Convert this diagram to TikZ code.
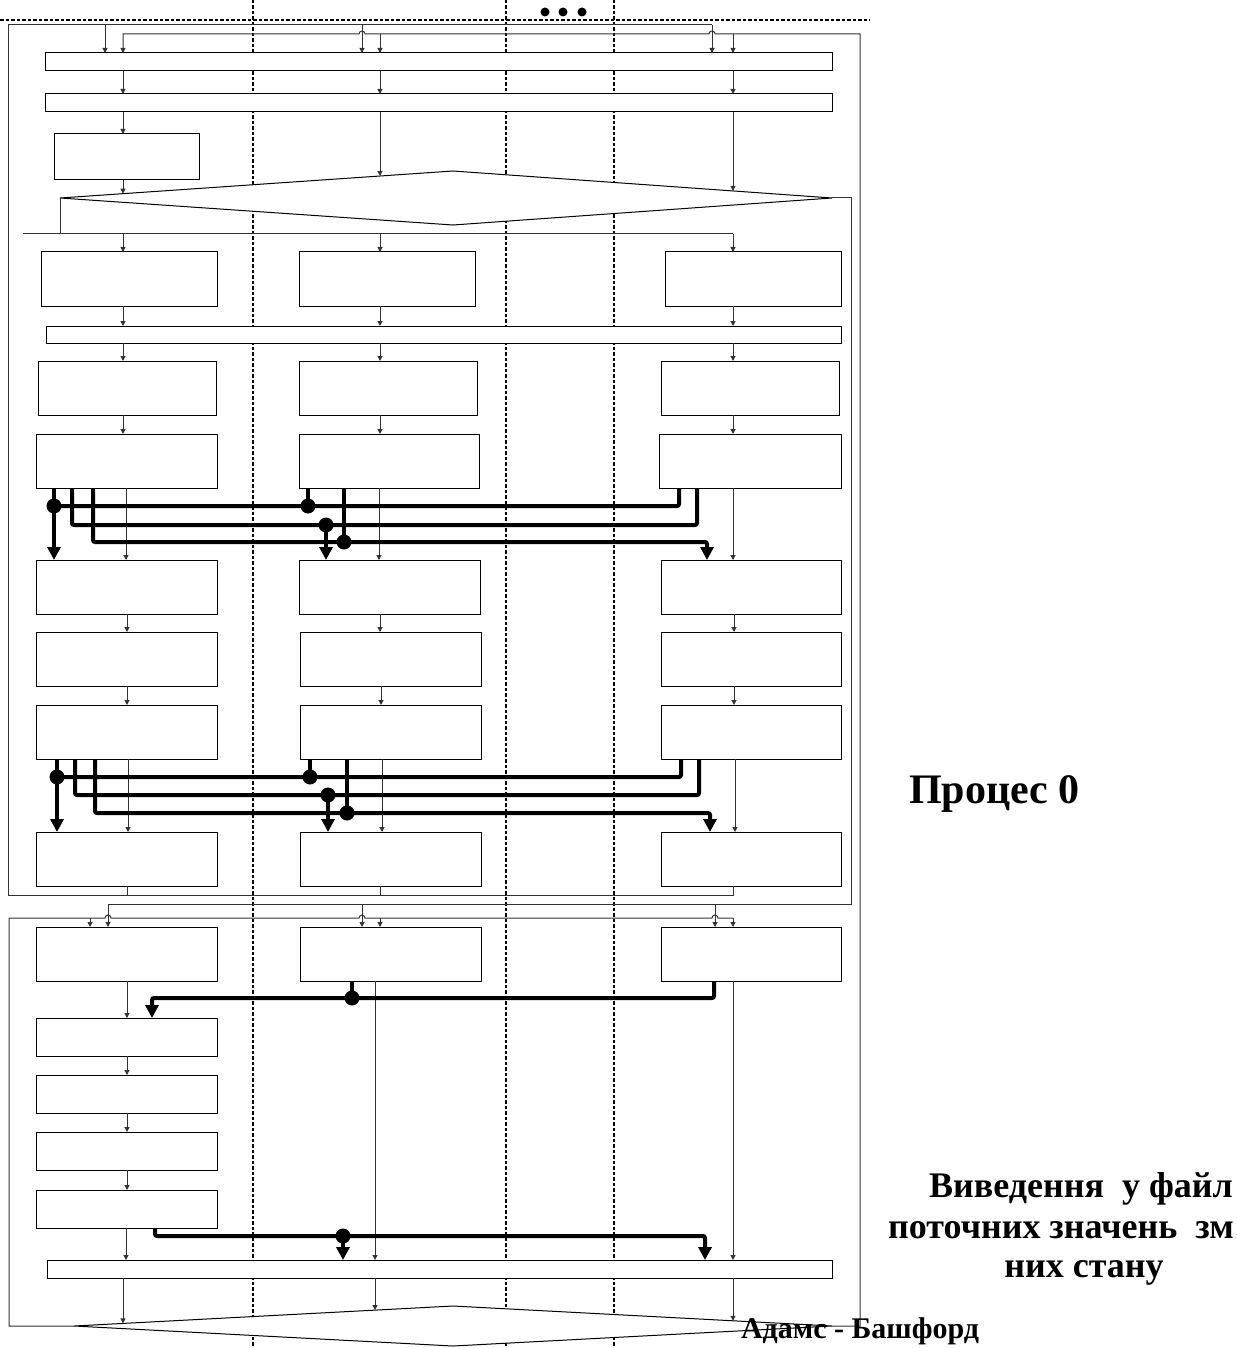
\documentclass[tikz,border=0pt]{standalone}
\usepackage{fontspec}
\setmainfont{Liberation Serif}
\usetikzlibrary{arrows.meta}
\tikzset{
  bxs/.style={draw=black, line width=1pt, fill=white},
  bx/.style={bxs, rectangle, inner sep=0pt, outer sep=0pt},
  tl/.style={draw=black!80, line width=1pt},
  tarr/.style={tl, -{Triangle[length=5pt,width=5pt]}},
  thk/.style={draw=black, line width=4pt, rounded corners=2pt},
  thkarr/.style={thk, -{Triangle[length=13pt,width=13pt]}},
  dotn/.style={fill=black, circle, inner sep=0pt, minimum size=15pt},
  dotl/.style={draw=black, line width=2pt, dash pattern=on 3.5pt off 2pt},
  lbl/.style={inner sep=0pt, text=black}
}
\newcommand\mkbox[5]{\node[bx, minimum width={(#4-#2)*1pt}, minimum height={(#5-#3)*1pt}] (#1) at ({(#2+#4)/2},{(#3+#5)/2}) {};}
\begin{document}
\begin{tikzpicture}[x=1pt,y=-1pt]
\useasboundingbox (0,0) rectangle (1236,1348);
% dotted separators
\draw[dotl] (0,20) -- (870,20);
\draw[dotl] (253,0) -- (253,1348);
\draw[dotl] (506,0) -- (506,1348);
\draw[dotl] (614,0) -- (614,1348);
\fill (545,12) circle[radius=4.5pt] (563,12) circle[radius=4.5pt] (582,12) circle[radius=4.5pt];
% diamonds
\coordinate (d1w) at (60,198); \coordinate (d1n) at (453,171);
\coordinate (d1e) at (832,198); \coordinate (d1s) at (453,225);
\draw[bxs] (d1w) -- (d1n) -- (d1e) -- (d1s) -- cycle;
\coordinate (d2w) at (74,1326); \coordinate (d2n) at (453,1306);
\coordinate (d2e) at (832,1326); \coordinate (d2s) at (453,1346);
\draw[bxs] (d2w) -- (d2n) -- (d2e) -- (d2s) -- cycle;
% boxes
\mkbox{bar1}{45}{53}{832}{71}
\mkbox{bar2}{45}{94}{832}{112}
\mkbox{boxA}{54}{134}{199}{180}
\mkbox{r1L}{41}{252}{217}{306}
\mkbox{r1M}{299}{252}{475}{306}
\mkbox{r1R}{665}{252}{841}{306}
\mkbox{bar3}{46}{326}{841}{343}
\mkbox{r2L}{38}{361}{216}{415}
\mkbox{r2M}{299}{361}{477}{415}
\mkbox{r2R}{661}{361}{839}{415}
\mkbox{r3L}{36}{434}{217}{488}
\mkbox{r3M}{299}{434}{479}{488}
\mkbox{r3R}{659}{434}{841}{488}
\mkbox{r4L}{36}{560}{217}{614}
\mkbox{r4M}{299}{560}{480}{614}
\mkbox{r4R}{661}{560}{841}{614}
\mkbox{r5L}{36}{632}{217}{686}
\mkbox{r5M}{300}{632}{481}{686}
\mkbox{r5R}{661}{632}{841}{686}
\mkbox{r6L}{36}{705}{217}{759}
\mkbox{r6M}{300}{705}{481}{759}
\mkbox{r6R}{661}{705}{841}{759}
\mkbox{r7L}{36}{832}{217}{886}
\mkbox{r7M}{300}{832}{481}{886}
\mkbox{r7R}{661}{832}{841}{886}
\mkbox{r8L}{36}{927}{217}{981}
\mkbox{r8M}{300}{927}{481}{981}
\mkbox{r8R}{661}{927}{841}{981}
\mkbox{s1}{36}{1018}{217}{1056}
\mkbox{s2}{36}{1075}{217}{1113}
\mkbox{s3}{36}{1132}{217}{1170}
\mkbox{s4}{36}{1190}{217}{1228}
\mkbox{bar4}{47}{1260}{832}{1278}
% ---- thin connectors: top loops
\draw[tl] (r7R.south -| 733,0) -- (733,895) -- (8,895) -- (8,25) -- (712,25);
\draw[tl] (r7L.south -| 127,0) -- (127,895);
\draw[tl] (r7M.south -| 380,0) -- (380,895);
\draw[tarr] (712,25) -- (bar1.north -| 712,0);
\draw[tarr] (105,25) -- (bar1.north -| 105,0);
\draw[tarr] (362,25) -- (bar1.north -| 362,0);
\draw[tarr] (d2e) -- (860,1326) -- (860,34) -- (715,34) arc[start angle=0,end angle=180,radius=3pt] -- (365,34) arc[start angle=0,end angle=180,radius=3pt] -- (123,34) -- (bar1.north -| 123,0);
\draw[tarr] (380,34) -- (bar1.north -| 380,0);
\draw[tarr] (733,34) -- (bar1.north -| 733,0);
% bars -> diamond
\foreach \x in {123,380,733}{\draw[tarr] (bar1.south -| \x,0) -- (bar2.north -| \x,0);}
\draw[tarr] (bar2.south -| 123,0) -- (boxA.north -| 123,0);
\draw[tarr] (boxA.south -| 123,0) -- (123,193.7);
\draw[tarr] (bar2.south -| 380,0) -- (380,176);
\draw[tarr] (bar2.south -| 733,0) -- (733,190.9);
% diamond left exit
\draw[tl] (d1w) -- (60,234);
\draw[tl] (23,234) -- (733,234);
\draw[tarr] (733,234) -- (r1R.north -| 733,0);
\draw[tarr] (123,234) -- (r1L.north -| 123,0);
\draw[tarr] (380,234) -- (r1M.north -| 380,0);
% column flow
\draw[tarr] (r1L.south -| 123,0) -- (bar3.north -| 123,0);
\draw[tarr] (r1M.south -| 380,0) -- (bar3.north -| 380,0);
\draw[tarr] (r1R.south -| 733,0) -- (bar3.north -| 733,0);
\draw[tarr] (bar3.south -| 123,0) -- (r2L.north -| 123,0);
\draw[tarr] (bar3.south -| 380,0) -- (r2M.north -| 380,0);
\draw[tarr] (bar3.south -| 733,0) -- (r2R.north -| 733,0);
\draw[tarr] (r2L.south -| 123,0) -- (r3L.north -| 123,0);
\draw[tarr] (r2M.south -| 380,0) -- (r3M.north -| 380,0);
\draw[tarr] (r2R.south -| 733,0) -- (r3R.north -| 733,0);
\draw[tarr] (r3L.south -| 126,0) -- (r4L.north -| 126,0);
\draw[tarr] (r3M.south -| 379,0) -- (r4M.north -| 379,0);
\draw[tarr] (r3R.south -| 733,0) -- (r4R.north -| 733,0);
\draw[tarr] (r4L.south -| 127,0) -- (r5L.north -| 127,0);
\draw[tarr] (r4M.south -| 380,0) -- (r5M.north -| 380,0);
\draw[tarr] (r4R.south -| 734,0) -- (r5R.north -| 734,0);
\draw[tarr] (r5L.south -| 127,0) -- (r6L.north -| 127,0);
\draw[tarr] (r5M.south -| 381,0) -- (r6M.north -| 381,0);
\draw[tarr] (r5R.south -| 734,0) -- (r6R.north -| 734,0);
\draw[tarr] (r6L.south -| 128,0) -- (r7L.north -| 128,0);
\draw[tarr] (r6M.south -| 382,0) -- (r7M.north -| 382,0);
\draw[tarr] (r6R.south -| 735,0) -- (r7R.north -| 735,0);
% exit to section 2
\draw[tl] (d1e) -- (851,198) -- (851,904) -- (108,904);
\draw[tarr] (108,904) -- (r8L.north -| 108,0);
\draw[tarr] (362,904) -- (r8M.north -| 362,0);
\draw[tarr] (715,904) -- (r8R.north -| 715,0);
\draw[tl] (d2w) -- (9,1326) -- (9,918) -- (105,918) arc[start angle=180,end angle=0,radius=3pt] -- (359,918) arc[start angle=180,end angle=0,radius=3pt] -- (712,918) arc[start angle=180,end angle=0,radius=3pt] -- (733,918);
\draw[tarr] (733,918) -- (r8R.north -| 733,0);
\draw[tarr] (90,918) -- (r8L.north -| 90,0);
\draw[tarr] (380,918) -- (r8M.north -| 380,0);
% section 2 flow
\draw[tarr] (r8L.south -| 127,0) -- (s1.north -| 127,0);
\draw[tarr] (s1.south -| 127,0) -- (s2.north -| 127,0);
\draw[tarr] (s2.south -| 127,0) -- (s3.north -| 127,0);
\draw[tarr] (s3.south -| 127,0) -- (s4.north -| 127,0);
\draw[tarr] (s4.south -| 126,0) -- (bar4.north -| 126,0);
\draw[tarr] (r8M.south -| 375,0) -- (bar4.north -| 375,0);
\draw[tarr] (r8R.south -| 733,0) -- (bar4.north -| 733,0);
\draw[tarr] (bar4.south -| 123,0) -- (123,1323.4);
\draw[tarr] (bar4.south -| 375,0) -- (375,1310.1);
\draw[tarr] (bar4.south -| 733,0) -- (733,1320.8);
% ---- thick connectors block 1
\node[dotn] (j11) at (54,506) {};
\node[dotn] (j12) at (308,506) {};
\node[dotn] (j13) at (326,525) {};
\node[dotn] (j14) at (344,542) {};
\draw[thkarr] (r3L.south -| 54,0) -- (r4L.north -| 54,0);
\draw[thk] (j11.center) -- (679,506) -- (r3R.south -| 679,0);
\draw[thk] (r3M.south -| 308,0) -- (j12.center);
\draw[thk] (r3L.south -| 72,0) -- (72,525) -- (697,525) -- (r3R.south -| 697,0);
\draw[thkarr] (j13.center) -- (r4M.north -| 326,0);
\draw[thkarr] (r3L.south -| 93,0) -- (93,542) -- (707,542) -- (r4R.north -| 707,0);
\draw[thk] (r3M.south -| 344,0) -- (j14.center);
% block 2
\node[dotn] (j21) at (57,777) {};
\node[dotn] (j22) at (310,777) {};
\node[dotn] (j23) at (328,795) {};
\node[dotn] (j24) at (347,813) {};
\draw[thkarr] (r6L.south -| 57,0) -- (r7L.north -| 57,0);
\draw[thk] (j21.center) -- (681,777) -- (r6R.south -| 681,0);
\draw[thk] (r6M.south -| 310,0) -- (j22.center);
\draw[thk] (r6L.south -| 75,0) -- (75,795) -- (699,795) -- (r6R.south -| 699,0);
\draw[thkarr] (j23.center) -- (r7M.north -| 328,0);
\draw[thkarr] (r6L.south -| 95,0) -- (95,813) -- (710,813) -- (r7R.north -| 710,0);
\draw[thk] (r6M.south -| 347,0) -- (j24.center);
% block 3
\node[dotn] (j31) at (352,998) {};
\draw[thkarr] (r8R.south -| 714,0) -- (714,998) -- (152,998) -- (s1.north -| 152,0);
\draw[thk] (r8M.south -| 352,0) -- (j31.center);
% block 4
\node[dotn] (j41) at (343,1236) {};
\draw[thkarr] (s4.south -| 155,0) -- (155,1236) -- (705,1236) -- (bar4.north -| 705,0);
\draw[thkarr] (j41.center) -- (bar4.north -| 343,0);
% texts
\node[lbl, anchor=base west, font=\bfseries\fontsize{42}{50}\selectfont] (proc) at (909,803) {Процес 0};
\node[lbl, anchor=base west, font=\bfseries\fontsize{36}{42}\selectfont] (t1) at (929,1197) {Виведення\ \ у файл};
\node[lbl, anchor=base west, font=\bfseries\fontsize{36}{42}\selectfont] (t2) at (888,1238) {поточних значень\ \ зм};
\node[lbl, anchor=base, font=\bfseries\fontsize{36}{42}\selectfont] (t3) at (1084,1277) {них стану};
\node[lbl, anchor=base, font=\bfseries\fontsize{30}{36}\selectfont] (t4) at (860,1338) {Адамс - Башфорд};
\end{tikzpicture}
\end{document}
